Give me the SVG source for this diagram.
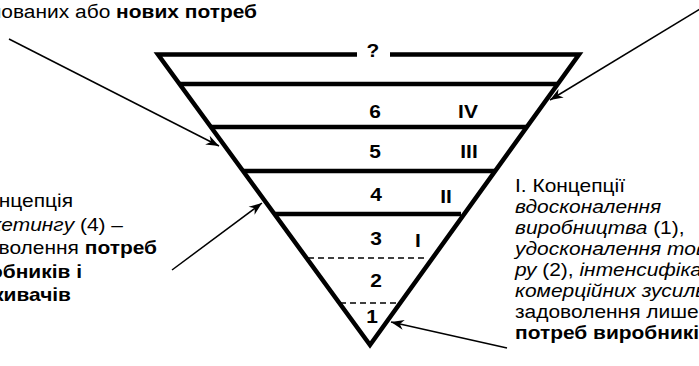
<svg xmlns="http://www.w3.org/2000/svg" width="699" height="366" viewBox="0 0 699 366">
<style>
text{font-family:"Liberation Sans",Arial,sans-serif;font-size:18.7px;fill:#000}
.b{font-weight:bold}
.i{font-style:italic}
.lab{font-weight:bold;text-anchor:middle}
.end{text-anchor:end}
.thick{fill:none;stroke:#000;stroke-width:4.5;stroke-linejoin:miter;stroke-miterlimit:10}
.dash{fill:none;stroke:#000;stroke-width:1.6;stroke-dasharray:6 4}
.arr{fill:none;stroke:#000;stroke-width:1.5;marker-end:url(#ah)}
</style>
<defs>
<marker id="ah" markerUnits="userSpaceOnUse" markerWidth="16" markerHeight="12" viewBox="-14 -6 16 12" refX="0" refY="0" orient="auto">
<path d="M0,0 L-13,-5 L-9,0 L-13,5 Z" fill="#000"/>
</marker>
</defs>
<g id="pyramid">
<path class="thick" d="M357,54.5 L158,54.5 L370,345 L579,54.5 L390,54.5"/>
<line class="thick" x1="179" y1="84" x2="558" y2="84"/>
<line class="thick" x1="211" y1="127" x2="527" y2="127"/>
<line class="thick" x1="243" y1="171" x2="495" y2="171"/>
<line class="thick" x1="274" y1="214" x2="461" y2="214"/>
<line class="dash" x1="308" y1="258" x2="425" y2="258"/>
<line class="dash" x1="340" y1="303" x2="400" y2="303"/>
</g>
<g id="labels">
<text class="lab" transform="translate(373,57) scale(1.12,1)">?</text>
<text class="lab" transform="translate(375,118) scale(1.12,1)">6</text>
<text class="lab" transform="translate(468,118) scale(1.12,1)">IV</text>
<text class="lab" transform="translate(375,158) scale(1.12,1)">5</text>
<text class="lab" transform="translate(469,158) scale(1.12,1)">III</text>
<text class="lab" transform="translate(376,201) scale(1.12,1)">4</text>
<text class="lab" transform="translate(446,203) scale(1.12,1)">II</text>
<text class="lab" transform="translate(376,245) scale(1.12,1)">3</text>
<text class="lab" transform="translate(418,247) scale(1.12,1)">I</text>
<text class="lab" transform="translate(376,287) scale(1.12,1)">2</text>
<text class="lab" transform="translate(372,323) scale(1.12,1)">1</text>
</g>
<g id="note-top">
<text class="end" transform="translate(257,17.5) scale(1.12,1)">сформованих або <tspan class="b">нових потреб</tspan></text>
</g>
<g id="note-left">
<text class="end" transform="translate(73,207) scale(1.12,1)">Концепція</text>
<text class="end" transform="translate(123,230.5) scale(1.12,1)"><tspan class="i">маркетингу</tspan> (4) –</text>
<text class="end" transform="translate(157,254) scale(1.12,1)">задоволення <tspan class="b">потреб</tspan></text>
<text class="end b" transform="translate(82,277.5) scale(1.12,1)">виробників і</text>
<text class="end b" transform="translate(71,301) scale(1.12,1)">споживачів</text>
</g>
<g id="note-right" transform="translate(515,0) scale(1.12,1)">
<text x="0" y="192">І. Концепції</text>
<text x="0" y="213" class="i">вдосконалення</text>
<text x="0" y="234"><tspan class="i">виробництва</tspan> (1),</text>
<text x="0" y="255" class="i">удосконалення това-</text>
<text x="0" y="276"><tspan class="i">ру</tspan> (2), <tspan class="i">інтенсифікації</tspan></text>
<text x="0" y="297" class="i">комерційних зусиль</text>
<text x="0" y="318">задоволення лише</text>
<text x="0" y="339" class="b">потреб виробників</text>
</g>
<g id="connectors">
<line class="arr" x1="9" y1="39" x2="219" y2="146"/>
<line class="arr" x1="705" y1="6" x2="550" y2="100"/>
<line class="arr" x1="172" y1="270" x2="262" y2="203"/>
<line class="arr" x1="507" y1="348" x2="391" y2="322"/>
</g>
</svg>
